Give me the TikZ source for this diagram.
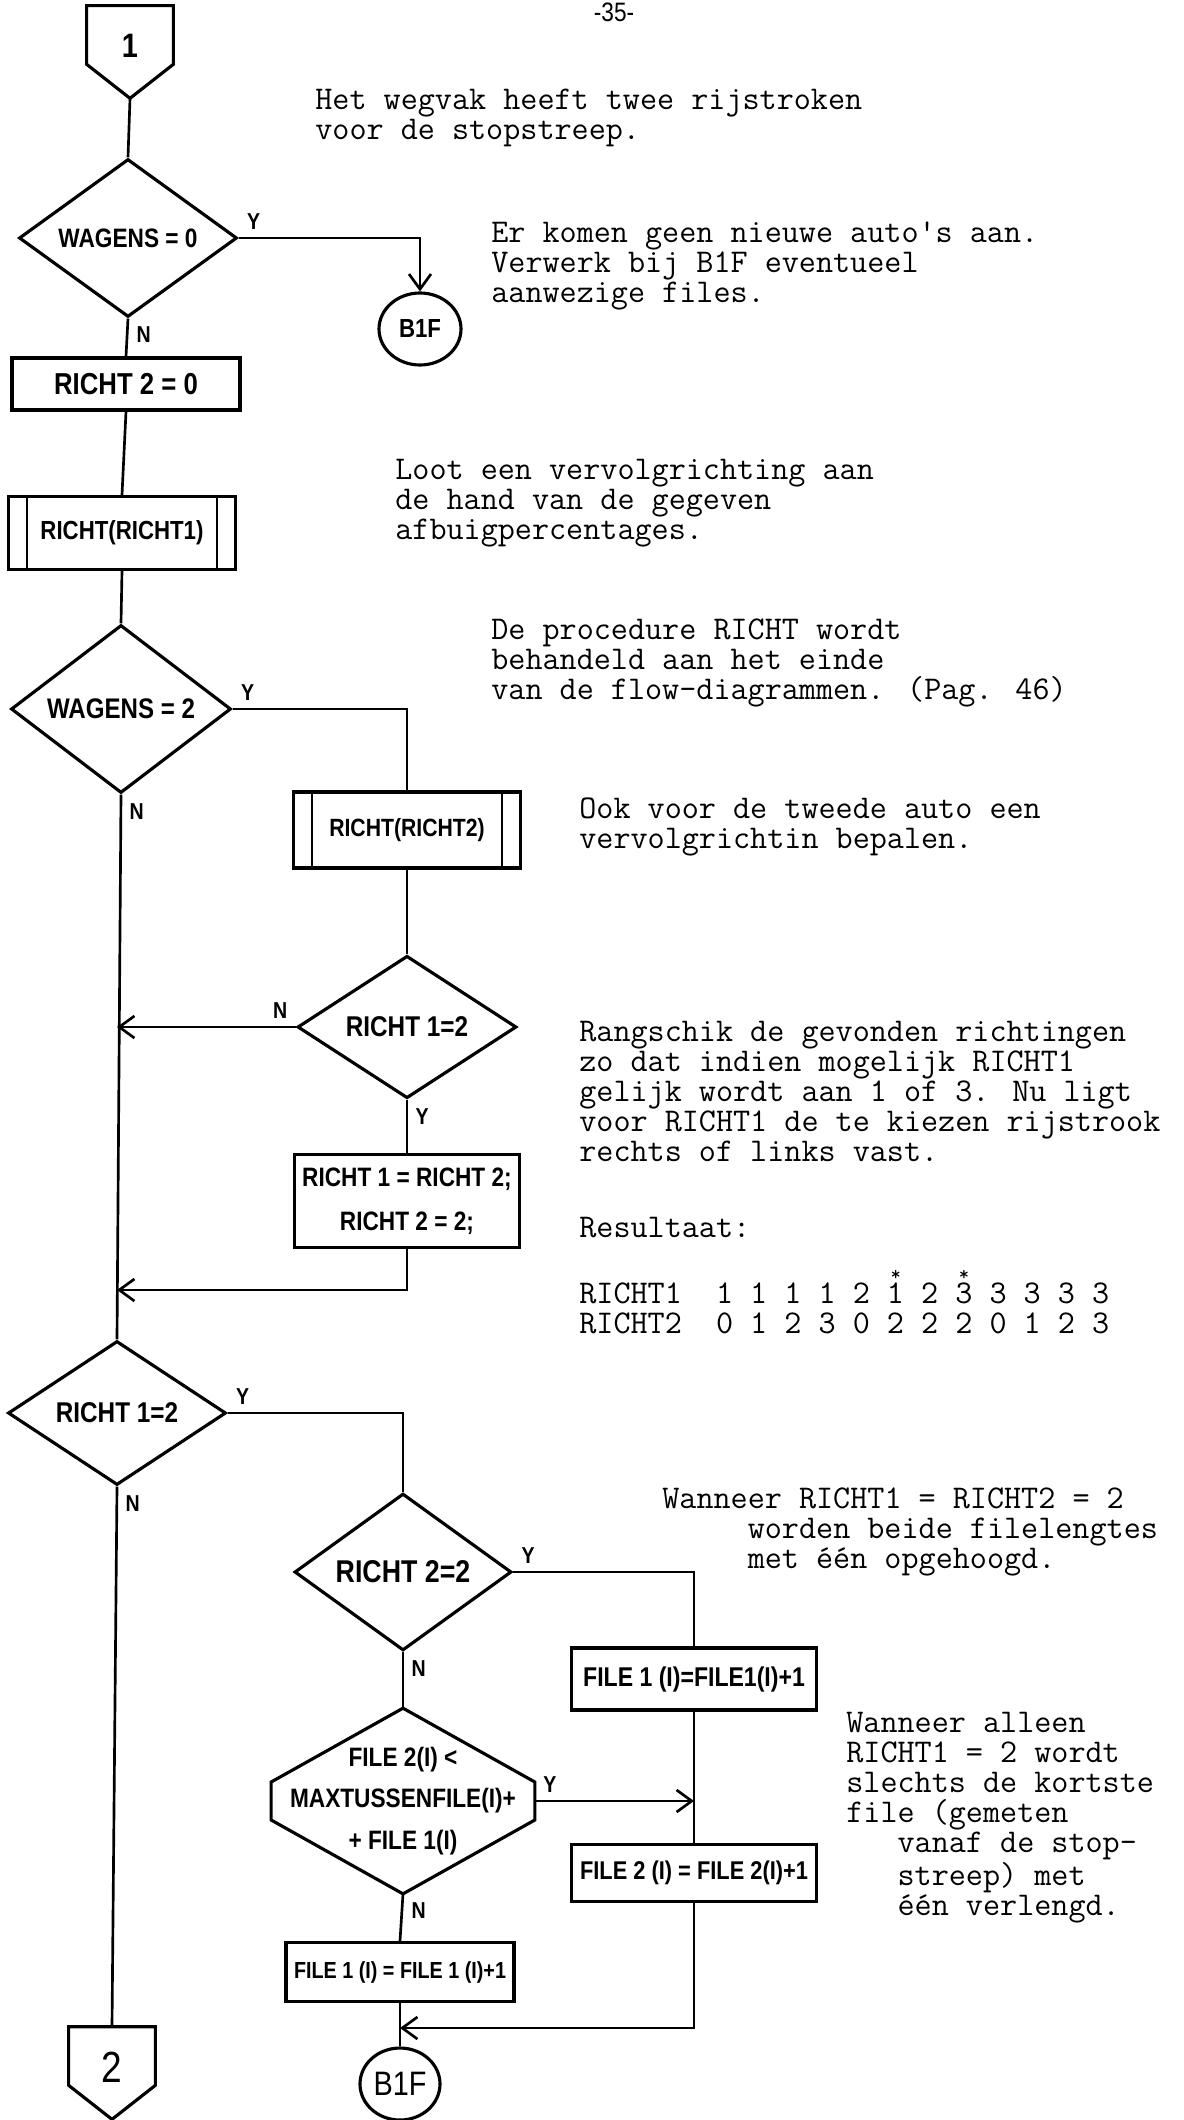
\documentclass[tikz,border=0pt]{standalone}
\usepackage{fontspec}
\usetikzlibrary{shapes.geometric, calc, arrows.meta}

\newfontfamily\handfont[FakeStretch=0.85]{Liberation Sans}
\newcommand\handat[2][14pt]{\handfont\bfseries\fontsize{#2}{#1}\selectfont}
\newcommand\typed{\ttfamily\fontsize{13.7}{12.4}\selectfont}
\newcommand\starover[1]{\rlap{\makebox[0.525em]{\raisebox{0.68em}{\fontsize{8}{8}\selectfont *}}}#1}
\newcommand\pxu{0.1451mm}

\begin{document}
\begin{tikzpicture}[
    x = \pxu, y = -\pxu,
    line width = 1.1pt,
    > = {Straight Barb[length = 2.2mm, width = 3.2mm]},
    decide/.style = {diamond, draw, line width = 1.3pt, inner sep = 0pt},
    proc/.style = {draw, line width = 1.3pt, inner sep = 0pt},
    subproc/.style = {proc, append after command = {
        ([xshift = 20*\pxu] \tikzlastnode.north west) edge ([xshift = 20*\pxu] \tikzlastnode.south west)
        ([xshift = -20*\pxu] \tikzlastnode.north east) edge ([xshift = -20*\pxu] \tikzlastnode.south east)}},
    offpage/.style = {minimum width = 84*\pxu, minimum height = 90*\pxu, inner sep = 0pt},
    stopper/.style = {ellipse, draw, line width = 1.3pt, inner sep = 0pt},
    ylab/.style = {above right, inner sep = 3pt, font = \handat{9.5}},
    nlab/.style = {below right, inner sep = 3pt, font = \handat{9.5}},
    memo/.style = {anchor = north west, align = left, inner sep = 0pt, font = \typed},
    ]

    \useasboundingbox (0, 0) rectangle (1183, 2120);

    \node at (614, 12) [font = \handfont\fontsize{11}{13}\selectfont, name = pagenum] {-35-};

    \node at (130, 52)
    [offpage, font = \handat{14}, name = one] {\raisebox{1.7mm}{1}};
    \node at (128, 238)
    [decide, minimum width = 218*\pxu, minimum height = 152*\pxu,
      font = \handat{11}, name = d1] {WAGENS = 0};
    \node at (420, 329)
    [stopper, minimum width = 82*\pxu, minimum height = 72*\pxu,
      font = \handat{10.8}, name = b1fa] {B1F};
    \node at (126, 384)
    [proc, minimum width = 228*\pxu, minimum height = 52*\pxu,
      font = \handat{12.5}, name = r2] {RICHT 2 = 0};
    \node at (122, 533)
    [subproc, minimum width = 227*\pxu, minimum height = 73*\pxu,
      font = \handat{10.8}, name = sub1] {RICHT(RICHT1)};
    \node at (121, 709)
    [decide, minimum width = 220*\pxu, minimum height = 144*\pxu,
      font = \handat{11.7}, name = d2] {WAGENS = 2};
    \node at (407, 830)
    [subproc, minimum width = 227*\pxu, minimum height = 76*\pxu,
      font = \handat{10.3}, name = sub2] {RICHT(RICHT2)};
    \node at (407, 1027)
    [decide, minimum width = 219*\pxu, minimum height = 142*\pxu,
      font = \handat{11.8}, name = d3] {RICHT 1=2};
    \node at (407, 1201)
    [proc, minimum width = 225*\pxu, minimum height = 93*\pxu, align = center,
      font = {\handat[18pt]{11}}, name = swap] {RICHT 1 = RICHT 2;\\RICHT 2 = 2;};
    \node at (117, 1413)
    [decide, minimum width = 218*\pxu, minimum height = 144*\pxu,
      font = \handat{11.8}, name = d4] {RICHT 1=2};
    \node at (403, 1572)
    [decide, minimum width = 217*\pxu, minimum height = 142*\pxu,
      font = \handat{13}, name = d5] {RICHT 2=2};
    \node at (694, 1679)
    [proc, minimum width = 245*\pxu, minimum height = 62*\pxu,
      font = \handat{11.2}, name = f1r] {FILE 1 (I)=FILE1(I)+1};
    \node at (403, 1801)
    [minimum width = 261*\pxu, minimum height = 183*\pxu, inner sep = 0pt, align = center,
      font = {\handat[17pt]{11}}, name = cmp] {FILE 2(I) <\\MAXTUSSENFILE(I)+\\+ FILE 1(I)};
    \node at (694, 1873)
    [proc, minimum width = 245*\pxu, minimum height = 57*\pxu,
      font = \handat{10.6}, name = f2r] {FILE 2 (I) = FILE 2(I)+1};
    \node at (400, 1972)
    [proc, minimum width = 228*\pxu, minimum height = 59*\pxu,
      font = \handat{9.6}, name = f1l] {FILE 1 (I) = FILE 1 (I)+1};
    \node at (400, 2084)
    [stopper, minimum width = 80*\pxu, minimum height = 72*\pxu,
      font = \handfont\fontsize{14}{16}\selectfont, name = b1fb] {B1F};
    \node at (112, 2073)
    [offpage, font = \handfont\fontsize{18}{20}\selectfont, name = two] {\raisebox{1.6mm}{2}};

    \foreach \p in {one, two}
    \draw [line width = 1.3pt] (\p.north west) -- ($(\p.south west) + (0, -34)$)
    -- (\p.south) -- ($(\p.south east) + (0, -34)$) -- (\p.north east) -- cycle;

    \draw [line width = 1.3pt] (cmp.north) -- ($(cmp.west) + (0, -19)$) -- ($(cmp.west) + (0, 19)$)
    -- (cmp.south) -- ($(cmp.east) + (0, 19)$) -- ($(cmp.east) + (0, -19)$) -- cycle;

    \coordinate (join1) at (117, 1290);
    \coordinate (join2) at (400, 2028);

    \draw (one.south) to (d1.north);
    \draw [->] (d1.east) node [ylab] {Y} -| (b1fa.north);
    \draw (d1.south) node [nlab] {N} to (r2.north);
    \draw (r2.south) to (sub1.north);
    \draw (sub1.south) to (d2.north);
    \draw (d2.east) node [ylab] {Y} -| (sub2.north);
    \draw (d2.south) node [nlab] {N} to (d4.north);
    \draw (sub2.south) to (d3.north);
    \draw [->] (d3.west) node [above left, inner sep = 3pt, font = \handat{9.5}] {N}
    to (d3.west -| d4.north);
    \draw (d3.south) node [nlab] {Y} to (swap.north);
    \draw [->] (swap.south) |- (join1);
    \draw (d4.east) node [ylab] {Y} -| (d5.north);
    \draw (d4.south) node [nlab] {N} to (two.north);
    \draw (d5.east) node [ylab] {Y} -| (f1r.north);
    \draw (d5.south) node [nlab] {N} to (cmp.north);
    \draw (f1r.south) to (f2r.north);
    \draw [->] (cmp.east) node [ylab] {Y} to (cmp.east -| f1r.south);
    \draw (cmp.south) node [nlab] {N} to (f1l.north);
    \draw (f1l.south) to (b1fb.north);
    \draw [->] (f2r.south) |- (join2);

    \node at (314, 88) [memo, name = noteA]
    {Het wegvak heeft twee rijstroken\\voor de stopstreep.};
    \node at (490, 221) [memo, name = noteB]
    {Er komen geen nieuwe auto\textquotesingle s aan.\\Verwerk bij B1F eventueel\\aanwezige files.};
    \node at (394, 458) [memo, name = noteC]
    {Loot een vervolgrichting aan\\de hand van de gegeven\\afbuigpercentages.};
    \node at (490, 617) [memo, name = noteD]
    {De procedure RICHT wordt\\behandeld aan het einde\\van de flow-diagrammen. (Pag. 46)};
    \node at (578, 796) [memo, name = noteE]
    {Ook voor de tweede auto een\\vervolgrichtin bepalen.};
    \node at (578, 1020) [memo, name = noteF]
    {Rangschik de gevonden richtingen\\zo dat indien mogelijk RICHT1\\gelijk wordt aan 1 of 3. Nu ligt\\voor RICHT1 de te kiezen rijstrook\\rechts of links vast.};
    \node at (578, 1216) [memo, name = noteG]
    {Resultaat:\\[12.4pt]
      RICHT1~~1~1~1~1~2~\starover{1}~2~\starover{3}~3~3~3~3\\
      RICHT2~~0~1~2~3~0~2~2~2~0~1~2~3};
    \node at (661, 1486) [memo, name = noteH]
    {Wanneer RICHT1 = RICHT2 = 2\\~~~~~worden beide filelengtes\\~~~~~met één opgehoogd.};
    \node at (845, 1711) [memo, name = noteI]
    {Wanneer alleen\\RICHT1 = 2 wordt\\slechts de kortste\\file (gemeten\\~~~vanaf de stop-\\~~~streep) met\\~~~één verlengd.};

  \end{tikzpicture}
\end{document}
